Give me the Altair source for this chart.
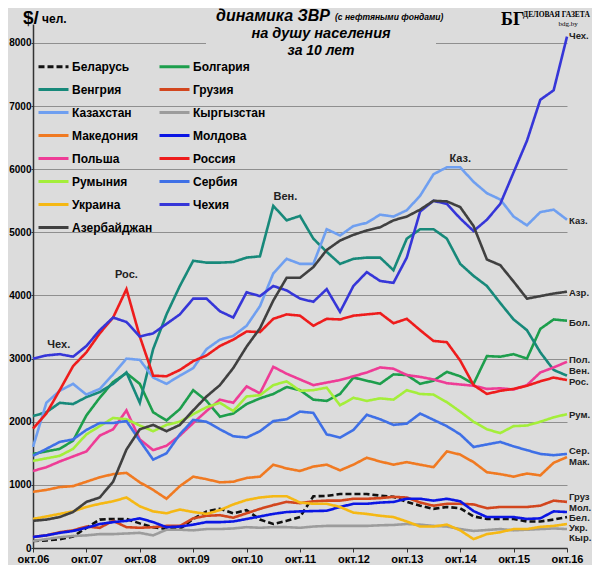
import pandas as pd
import altair as alt

# квартальные точки, месяцы от окт.06
months = list(range(0, 121, 3))
year_ticks = list(range(0, 121, 12))
year_labels = ["окт.06", "окт.07", "окт.08", "окт.09", "окт.10", "окт.11",
               "окт.12", "окт.13", "окт.14", "окт.15", "окт.16"]

countries = ["Беларусь", "Болгария", "Венгрия", "Грузия", "Казахстан", "Кыргызстан",
             "Македония", "Молдова", "Польша", "Россия", "Румыния", "Сербия",
             "Украина", "Чехия", "Азербайджан"]
colors = ["#111111", "#1d9e4c", "#17897a", "#d2461e", "#6f9ff0", "#9c9c9c",
          "#f07a22", "#0b16e4", "#ee3c96", "#ee1c1c", "#a4ee3a", "#3f70e6",
          "#f5b814", "#3636d8", "#404040"]
dashes = [[6, 3]] + [[1, 0]] * 14

belarus = [110, 120, 140, 180, 320, 450, 460, 460, 390, 330, 300, 300, 460, 580, 620, 550, 600, 450, 380, 430,
           490, 820, 825, 855, 855, 855, 830, 810, 730, 670, 620, 650, 630, 500, 460, 460, 460, 420, 420, 450, 490]
bulgaria = [1490, 1530, 1570, 1700, 2100, 2380, 2630, 2770, 2600, 2150, 2020, 2200, 2500, 2330, 2080, 2130, 2280,
            2370, 2440, 2550, 2500, 2350, 2330, 2440, 2700, 2650, 2600, 2750, 2740, 2600, 2650, 2790, 2720, 2600,
            3040, 3030, 3070, 3000, 3470, 3620, 3600]
hungary = [2090, 2150, 2300, 2280, 2390, 2470, 2600, 2780, 2300, 3150, 3700, 4150, 4550, 4520, 4520, 4530, 4600,
           4620, 5420, 5190, 5260, 4900, 4690, 4500, 4580, 4600, 4600, 4400, 4900, 5050, 5050, 4900, 4500, 4310,
           4150, 3880, 3620, 3450, 3100, 2820, 2730]
georgia = [175, 200, 250, 280, 340, 320, 430, 330, 320, 330, 350, 350, 470, 510, 520, 480, 550, 620, 680, 730,
           710, 740, 750, 750, 780, 780, 790, 810, 800, 720, 670, 700, 700, 690, 630, 650, 650, 650, 670, 750, 730]
kazakhstan = [1600, 2300, 2490, 2600, 2430, 2520, 2750, 3000, 2980, 2700, 2600, 2730, 2850, 3150, 3300, 3360, 3520,
              3830, 4350, 4580, 4500, 4500, 5050, 4950, 5100, 5150, 5280, 5250, 5350, 5580, 5920, 6030, 6030, 5800,
              5620, 5520, 5250, 5110, 5320, 5360, 5200]
kyrgyzstan = [110, 140, 170, 190, 200, 220, 220, 230, 240, 200, 290, 290, 280, 300, 300, 310, 330, 320, 330, 330,
              320, 340, 350, 350, 350, 350, 360, 365, 380, 370, 350, 340, 300, 270, 285, 300, 280, 290, 300, 310, 300]
macedonia = [890, 920, 965, 980, 1050, 1120, 1170, 1190, 1040, 920, 780, 980, 1130, 1090, 1040, 1050, 1110, 1130,
             1320, 1260, 1220, 1290, 1320, 1230, 1320, 1430, 1370, 1320, 1360, 1320, 1280, 1530, 1480, 1360, 1200,
             1170, 1130, 1180, 1150, 1350, 1440]
moldova = [175, 200, 240, 270, 320, 380, 410, 430, 470, 410, 330, 340, 370, 410, 410, 420, 460, 500, 540, 570,
           580, 585, 590, 650, 700, 700, 720, 730, 780, 780, 750, 780, 740, 585, 490, 490, 490, 460, 470, 580, 570]
poland = [1220, 1280, 1370, 1450, 1530, 1780, 1880, 2180, 1720, 1550, 1620, 1780, 1980, 2170, 2350, 2300, 2560,
          2450, 2870, 2760, 2670, 2580, 2620, 2660, 2720, 2780, 2860, 2840, 2740, 2710, 2670, 2610, 2590, 2570,
          2520, 2530, 2510, 2580, 2780, 2860, 2950]
russia = [1890, 2130, 2500, 2880, 3100, 3400, 3650, 4100, 3350, 2730, 2720, 2820, 2960, 3050, 3200, 3300, 3430,
          3420, 3630, 3700, 3680, 3520, 3630, 3620, 3680, 3700, 3720, 3560, 3630, 3450, 3280, 3260, 2970, 2580,
          2440, 2490, 2520, 2570, 2640, 2700, 2660]
romania = [1380, 1420, 1460, 1570, 1800, 1930, 2060, 2040, 1940, 1850, 1950, 2000, 2120, 2230, 2300, 2170, 2400,
           2420, 2580, 2640, 2490, 2500, 2540, 2260, 2380, 2330, 2370, 2350, 2500, 2440, 2430, 2310, 2160, 2000,
           1880, 1820, 1930, 1940, 2000, 2070, 2120]
serbia = [1460, 1570, 1680, 1720, 1870, 1980, 1980, 2010, 1700, 1400, 1500, 1800, 2030, 2000, 1880, 1770, 1750,
          1850, 2010, 2040, 2160, 2140, 1800, 1750, 1870, 2110, 2040, 1950, 1970, 2130, 2030, 1930, 1800, 1600,
          1640, 1680, 1610, 1550, 1490, 1470, 1490]
ukraine = [460, 500, 540, 580, 650, 700, 740, 800, 660, 580, 550, 610, 570, 540, 600, 690, 760, 800, 820, 820,
           720, 700, 700, 650, 560, 540, 510, 490, 420, 340, 340, 370, 280, 140, 220, 250, 300, 300, 335, 350, 380]
czech = [3000, 3050, 3070, 3030, 3200, 3450, 3650, 3580, 3350, 3400, 3550, 3700, 3950, 3950, 3750, 3650, 4050,
         3990, 4150, 4080, 3950, 3900, 4100, 3740, 4150, 4370, 4230, 4200, 4600, 5330, 5500, 5450, 5220, 5020,
         5200, 5450, 5950, 6450, 7100, 7250, 8100]
azerbaijan = [430, 450, 490, 570, 730, 800, 1050, 1560, 1880, 1950, 1850, 1950, 2180, 2400, 2580, 2850, 3190,
              3480, 3920, 4280, 4280, 4450, 4720, 4870, 4960, 5030, 5080, 5190, 5250, 5360, 5500, 5490, 5400,
              5100, 4570, 4480, 4220, 3950, 3990, 4030, 4060]

series = [belarus, bulgaria, hungary, georgia, kazakhstan, kyrgyzstan, macedonia, moldova,
          poland, russia, romania, serbia, ukraine, czech, azerbaijan]

# подписи на концах линий
end_text = ["Чех.", "Каз.", "Азр.", "Бол.", "Пол.", "Вен.", "Рос.", "Рум.",
            "Сер.", "Мак.", "Груз", "Мол.", "Бел.", "Укр.", "Кыр."]
end_value = [8115, 5183, 4042, 3566, 2970, 2800, 2630, 2108, 1530, 1360, 800, 640, 480, 320, 160]

# подписи внутри графика
note_text = ["Чех.", "Рос.", "Вен.", "Каз."]
note_month = [5.8, 21, 56.7, 96]
note_value = [3220, 4330, 5560, 6165]

rows = []
for name, vals in zip(countries, series):
    for m, v in zip(months, vals):
        rows.append({"country": name, "month": m, "value": v})
df = pd.DataFrame(rows)

BG = "#dcdcdc"
FONT = "Liberation Sans"

label_expr = "[" + ",".join("'%s'" % s for s in year_labels) + "][round(datum.value / 12)]"

x_scale = alt.Scale(domain=[0, 120], nice=False)
y_scale = alt.Scale(domain=[0, 8300], nice=False)

legend = alt.Legend(
    title=None, orient="none", legendX=4, legendY=26, direction="horizontal", columns=2, padding=0,
    symbolType="stroke", symbolSize=900, symbolStrokeWidth=3,
    labelFont=FONT, labelFontSize=12, labelFontWeight="bold", labelColor="black",
    labelOffset=2, labelLimit=200, rowPadding=-3, columnPadding=0,
)

lines = alt.Chart(df).mark_line(strokeWidth=2.6).encode(
    x=alt.X("month:Q", scale=x_scale, title=None,
            axis=alt.Axis(values=year_ticks, labelExpr=label_expr, grid=False, labelFlush=False,
                          tickSize=4, tickColor="#333", domainColor="#333", domainWidth=1.5,
                          labelFont=FONT, labelFontSize=11, labelFontWeight="bold",
                          labelColor="black", labelPadding=1)),
    y=alt.Y("value:Q", scale=y_scale, title=None,
            axis=alt.Axis(values=list(range(0, 9000, 1000)), format="d", grid=True,
                          gridColor="#8f8f8f", gridWidth=1.2, tickSize=2, tickColor="#333",
                          domainColor="#333", domainWidth=1.5, labelFont=FONT, labelFontSize=10,
                          labelFontWeight="bold", labelColor="black", labelPadding=0)),
    color=alt.Color("country:N", scale=alt.Scale(domain=countries, range=colors), legend=legend),
    strokeDash=alt.StrokeDash("country:N", scale=alt.Scale(domain=countries, range=dashes), legend=legend),
)

ends = alt.Chart(pd.DataFrame({"t": end_text, "v": end_value, "m": [120] * len(end_text)})).mark_text(
    align="left", baseline="middle", dx=2, font=FONT, fontSize=9.5, fontWeight="bold", color="#222"
).encode(x=alt.X("m:Q", scale=x_scale), y=alt.Y("v:Q", scale=y_scale), text="t:N")

notes = alt.Chart(pd.DataFrame({"t": note_text, "v": note_value, "m": note_month})).mark_text(
    align="center", baseline="middle", font=FONT, fontSize=11, fontWeight="bold", color="#222"
).encode(x=alt.X("m:Q", scale=x_scale), y=alt.Y("v:Q", scale=y_scale), text="t:N")

one = pd.DataFrame({"a": [0]})

# фон под заголовком скрывает линию сетки
title_bg = alt.Chart(one).mark_rect(color=BG).encode(
    x=alt.value(173), x2=alt.value(403), y=alt.value(14), y2=alt.value(26))


def label(text, x, y, size, style="normal", align="left", font=FONT, weight="bold"):
    return alt.Chart(one).mark_text(
        text=text, align=align, baseline="alphabetic", font=font, fontSize=size,
        fontWeight=weight, fontStyle=style, color="black"
    ).encode(x=alt.value(x), y=alt.value(y))


titles = (
    label("динамика ЗВР", 297, -3, 16, "italic", "right")
    + label("(с нефтяными фондами)", 302, -4, 8.5, "italic")
    + label("на душу населения", 288, 14, 14.5, "italic", "center")
    + label("за 10 лет", 288, 31, 14, "italic", "center")
    + label("$/", -10, 0, 19)
    + label("чел.", 9, -1, 12)
    + label("БГ", 468, 1, 18, font="Liberation Serif")
    + label("ДЕЛОВАЯ ГАЗЕТА", 490, -7, 7.5, font="Liberation Serif")
    + label("bdg.by", 535, 2, 7, align="center", font="Liberation Serif", weight="normal")
)

chart = alt.layer(lines, title_bg, notes, ends, titles).properties(
    width=534, height=524,
    autosize="none",
    padding={"left": 25, "top": 16, "right": 25, "bottom": 17},
    background=BG,
).configure_view(stroke=None)

chart.save("out.html", embed_options={"renderer": "svg", "actions": False})
